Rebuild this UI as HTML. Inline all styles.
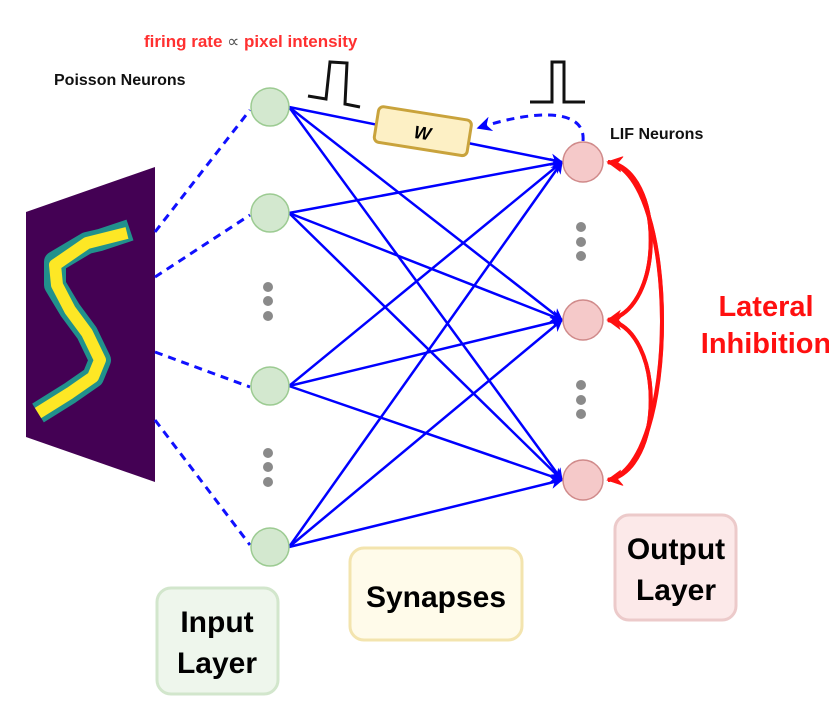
<!DOCTYPE html>
<html><head><meta charset="utf-8"><style>
html,body{margin:0;padding:0;background:#fff}
svg{display:block}
text{font-family:"Liberation Sans",sans-serif;font-weight:bold}
</style></head><body>
<svg width="829" height="706" viewBox="0 0 829 706">
<defs>
<marker id="ab" viewBox="0 0 10 10" refX="9" refY="5" markerWidth="5" markerHeight="5" orient="auto"><path d="M0,0 L10,5 L0,10 L3,5 z" fill="#0000ff"/></marker>
<marker id="ar" viewBox="0 0 10 10" refX="9" refY="5" markerWidth="4" markerHeight="4" orient="auto"><path d="M0,0 L10,5 L0,10 L3,5 z" fill="#ff1010"/></marker>
</defs>
<g>
<polygon points="26,212 155,167 155,482 26,437" fill="#440154"/>
<polyline points="130,230 100,240 87,243 55,262 55,285 70,310 87,333 100,360 93,377 70,393 38,413" fill="none" stroke="#21918c" stroke-width="22" stroke-linejoin="round"/>
<polyline points="127,233 87,243 55,265 57,285 70,310 87,333 100,360 93,377 70,393 38,413" fill="none" stroke="#fde725" stroke-width="12" stroke-linejoin="round"/>
</g>
<g stroke="#1010ff" stroke-width="3" stroke-dasharray="8,6" fill="none">
<line x1="155" y1="232" x2="250" y2="110"/>
<line x1="155" y1="277" x2="250" y2="215"/>
<line x1="155" y1="352" x2="250" y2="387"/>
<line x1="155" y1="420" x2="250" y2="545"/>
</g>
<g id="syn"></g>
<g transform="rotate(9 422 130)">
<rect x="376" y="113" width="94" height="36" rx="5" fill="#fdf0c5" stroke="#c9a33c" stroke-width="3"/>
<text x="423" y="139" font-size="18" font-style="italic" text-anchor="middle">W</text>
</g>
<path d="M583,141 C586,110 540,108 478,128" fill="none" stroke="#1010ff" stroke-width="3" stroke-dasharray="8,6" marker-end="url(#ab)"/>
<g fill="#d3e8cf" stroke="#9ccb92" stroke-width="1.5">
<circle cx="270" cy="107" r="19"/><circle cx="270" cy="213" r="19"/><circle cx="270" cy="386" r="19"/><circle cx="270" cy="547" r="19"/>
</g>
<g fill="#f5c9c9" stroke="#d08a8a" stroke-width="1.5">
<circle cx="583" cy="162" r="20"/><circle cx="583" cy="320" r="20"/><circle cx="583" cy="480" r="20"/>
</g>
<g fill="#8a8a8a">
<circle cx="268" cy="287" r="5"/><circle cx="268" cy="301" r="5"/><circle cx="268" cy="316" r="5"/>
<circle cx="268" cy="453" r="5"/><circle cx="268" cy="467" r="5"/><circle cx="268" cy="482" r="5"/>
<circle cx="581" cy="227" r="5"/><circle cx="581" cy="242" r="5"/><circle cx="581" cy="256" r="5"/>
<circle cx="581" cy="385" r="5"/><circle cx="581" cy="400" r="5"/><circle cx="581" cy="414" r="5"/>
</g>
<g fill="none" stroke="#ff1010" stroke-width="4">
<path d="M608,162 C665,170 665,310 608,320" marker-end="url(#ar)"/>
<path d="M608,320 C665,310 665,170 608,162" marker-end="url(#ar)"/>
<path d="M608,320 C665,330 665,470 608,480" marker-end="url(#ar)"/>
<path d="M608,480 C665,470 665,330 608,320" marker-end="url(#ar)"/>
<path d="M608,162 C680,175 680,470 608,480" marker-end="url(#ar)"/>
<path d="M608,480 C680,465 680,175 608,162" marker-end="url(#ar)"/>
</g>
<g fill="none" stroke="#111" stroke-width="3">
<polyline points="308,96 326,99 330,62 347,63 345,104 360,107"/>
<polyline points="530,102 552,102 552,62 564,62 564,102 585,102"/>
</g>
<text x="144" y="47" font-size="17" fill="#ff3030">firing rate <tspan fill="#555" font-weight="normal">∝</tspan> pixel intensity</text>
<text x="54" y="85" font-size="16" fill="#111">Poisson Neurons</text>
<text x="610" y="139" font-size="16" fill="#111">LIF Neurons</text>
<text x="766" y="316" font-size="29" fill="#ff1010" text-anchor="middle">Lateral</text>
<text x="766" y="353" font-size="29" fill="#ff1010" text-anchor="middle">Inhibition</text>
<g>
<rect x="157" y="588" width="121" height="106" rx="14" fill="#eef6ec" stroke="#d2e6cc" stroke-width="3"/>
<text x="217" y="632" font-size="30" text-anchor="middle">Input</text>
<text x="217" y="673" font-size="30" text-anchor="middle">Layer</text>
</g>
<g>
<rect x="350" y="548" width="172" height="92" rx="14" fill="#fffbea" stroke="#f3e4ae" stroke-width="3"/>
<text x="436" y="607" font-size="30" text-anchor="middle">Synapses</text>
</g>
<g>
<rect x="615" y="515" width="121" height="105" rx="14" fill="#fce9e9" stroke="#eccaca" stroke-width="3"/>
<text x="676" y="559" font-size="30" text-anchor="middle">Output</text>
<text x="676" y="600" font-size="30" text-anchor="middle">Layer</text>
</g>
</svg>
<script>
const inY=[107,213,386,547];
const outY=[162,320,480];
const g=document.getElementById('syn');
const NS='http://www.w3.org/2000/svg';
inY.forEach(function(a,i){outY.forEach(function(b,j){
  const l=document.createElementNS(NS,'line');
  
  
  const x1=289,x2=562;
  l.setAttribute('x1',x1);l.setAttribute('y1',a);
  l.setAttribute('x2',x2);l.setAttribute('y2',b);
  l.setAttribute('stroke','#0000ff');l.setAttribute('stroke-width','2.5');
  l.setAttribute('marker-end','url(#ab)');
  g.appendChild(l);
});});
</script>
</body></html>
